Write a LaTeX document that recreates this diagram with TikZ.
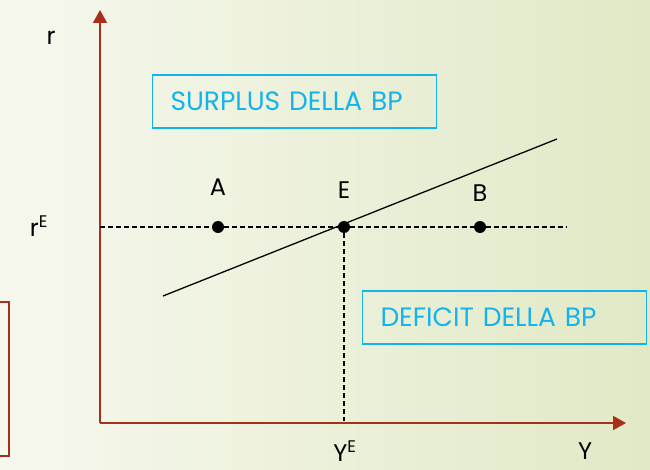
\documentclass[tikz,border=0pt]{standalone}
\usepackage{fontspec}
\setmainfont{Poppins}
\usetikzlibrary{positioning, arrows.meta}
\definecolor{axisred}{RGB}{168,48,24}
\definecolor{boxcyan}{RGB}{20,180,235}
\definecolor{bgleft}{RGB}{246,248,238}
\definecolor{bgright}{RGB}{225,233,198}

\begin{document}
\begin{tikzpicture}[x=1pt, y=-1pt, >={Triangle[length=13pt,width=14pt]},
    axis/.style={->, draw=axisred, line width=1.6pt},
    guide/.style={dash pattern=on 5pt off 3pt, line width=1.2pt},
    pt/.style={circle, fill=black, inner sep=0pt, minimum size=12pt},
    lbl/.style={font=\fontsize{24}{28}\selectfont},
    infobox/.style={draw=boxcyan, line width=1.3pt, text=boxcyan, font=\fontsize{26.5}{28}\selectfont,
                    minimum height=53pt, align=left, text width=#1, inner xsep=18pt}]
    % background
    \shade[left color=bgleft, right color=bgright] (0,0) rectangle (650,470);
    \useasboundingbox (0,0) rectangle (650,470);

    % axes
    \coordinate (O) at (100,423);
    \coordinate (ytop) at (100,10);
    \coordinate (xend) at (626,423);
    \draw[axis] (O) -- (ytop);
    \draw[axis] (O) -- (xend);
    \draw[draw=axisred, line width=1.3pt] (-5,302) -- (9,302) -- (9,456) -- (-5,456);

    % points on r = r^E
    \node[pt] (A) at (218,227) {};
    \node[pt] (E) at (344,227) {};
    \node[pt] (B) at (480,227) {};
    \coordinate (rE) at (100,227);
    \coordinate (dend) at (567,227);
    \coordinate (YE) at (344,421);
    \draw[guide] (rE) -- (A) -- (E) -- (B) -- (dend);
    \draw[guide] (E) -- (YE);

    % BP curve
    \coordinate (bp1) at (163,296);
    \coordinate (bp2) at (557,139);
    \draw[line width=1.3pt] (bp1) -- (bp2);

    % labels
    \node[lbl, above=22pt of A] {A};
    \node[lbl, above=19pt of E] {E};
    \node[lbl, above=16pt of B] {B};
    \node[lbl] (rlab) at (51,38) {r};
    \node[lbl] (rElab) at (39,226) {r\textsuperscript{E}};
    \node[lbl] (YElab) at (345,451) {Y\textsuperscript{E}};
    \node[lbl] (Ylab) at (585,451) {Y};

    % boxes
    \node[infobox=248pt] (surplus) at (294.5,101.5) {SURPLUS DELLA BP};
    \node[infobox=248pt] (deficit) at (504.5,317.5) {DEFICIT DELLA BP};
\end{tikzpicture}
\end{document}
